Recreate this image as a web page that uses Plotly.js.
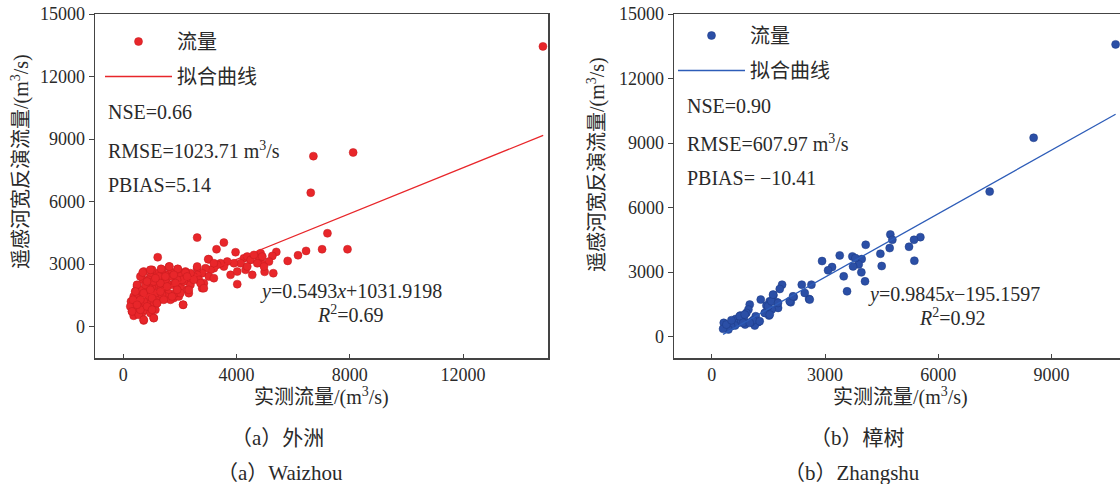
<!DOCTYPE html>
<html><head><meta charset="utf-8">
<script src="https://cdn.plot.ly/plotly-3.0.1.min.js"></script>
<style>html,body{margin:0;padding:0;overflow:hidden;background:#fff}#c{width:1140px;height:484px}</style>
</head><body><div id="c"></div>
<script>
// ---- Waizhou (外洲) ----
const wzObs = [14821,6714,8118,6620,7210,7021,7918,6455,6171,5806,5404,5298,4991,5263,5145,4850,4885,4555,2608,3552,3292,3965,4024,1215,2112,720,1074,307,366,271,3021,4260,4378,4496,4791,4142,3906,3670,3552,3434,3316,3198,3080,2903,2785,2608,2608,2490,2372,2313,2254,2313,2195,2018,1923,1782,1664,1617,1487,1369,1310,1192,1015,956,720,696,602,484,425,366,543,779,956,1192,1428,1605,1782,1959,1487,1251,1074,897,661,1133,838,602,1015,1723,2018,2136,2844,2785,2667,3021,3198,3788,4024,4319,4378,4732,4968,4909,4614,2077,2372,1900,1546,1310,897,661,484,248,602,897,1133,1369,1664,1841,1251,1487,1723,1900,897,779,1074,484,720,1015,1192,779,425,543,956,
  684,956,1334,1628,1923,2195,2609,2998,3198,484,425,343,308,719,1074,602,838,1015,1192,1428,1722,2018,2112,2313,2726,2844,2489,1310,719,956,602,484,1310,1546,1841,1900,838,1133,1487,1782,2254];
const wzSim = [13446,8182,8358,6428,4482,3716,3716,3637,3429,3158,3589,2568,2632,3397,3126,3525,3046,2488,4275,4035,3716,3573,2042,3334,1053,303,415,734,526,1212,3238,3286,3366,3206,3286,3046,3046,3126,2887,3046,2967,2807,2727,2807,2568,2807,2488,2408,2568,2169,1770,1611,2648,2568,2759,2408,2648,2887,2488,2727,2249,2568,2727,2408,2648,2249,2408,1930,1691,1451,1292,1611,1770,2010,1850,1611,1372,1451,1451,1292,1053,893,654,813,1212,1611,1850,2010,1930,2169,2089,1850,2249,2408,2329,2488,2648,2727,2887,3046,2887,3366,3445,2249,2010,1770,2089,1770,1930,1770,1372,973,973,1451,1611,1531,1292,1611,2408,2249,2408,2249,2249,2010,2169,1212,1212,1372,1133,813,734,574,654,
  2598,2727,2775,2886,2775,2598,2886,3239,3048,2010,1689,1292,733,335,416,813,972,813,1133,1292,1451,1612,1053,1770,2090,1850,2249,2090,1612,1770,1292,1053,1689,1929,2090,1770,2168,2328,2408,2488,2408];
const wzFitX = [250, 14830];
const wzSlope = 0.5493, wzIntercept = 1031.9198;

// ---- Zhangshu (樟树) ----
const zsObs = [10698,8527,7362,5526,5358,4731,4784,4713,5226,5367,4502,4467,4078,3972,3893,3725,3805,3743,3963,4060,3496,3584,3390,3187,3081,2922,2640,2578,2463,2384,2172,2092,1863,1801,1633,1730,1536,1757,1589,1448,1421,1518,1298,1006,971,1165,1227,1139,1033,883,847,759,636,706,618,512,441,318,300,388,521,786,918,1094,1271,
  741,874,830,1006,1403,1536,1492,1580,1624,1756,2065,2153,2595];
const zsSim = [13587,9243,6739,4622,4498,4745,4498,4112,4173,3524,3277,3849,4266,3601,3354,3725,3648,3261,2983,2566,2798,2102,3771,3230,3076,3509,2411,1747,2025,2411,1839,1592,2411,2210,1917,1592,1638,1329,1252,1438,1097,974,1716,1484,1252,943,665,510,665,556,866,974,819,634,510,479,325,634,356,556,757,711,1097,757,711,
  943,1020,634,634,1097,1020,1406,1638,1948,1561,1638,1870,1716];
const zsFitX = [300, 10698];
const zsSlope = 0.9845, zsIntercept = -195.1597;

const yTicks = [0,3000,6000,9000,12000,15000];
const yTickText = ['0','3000','6000','9000','12000','15000'];
const wzXTicks = [0,4000,8000,12000];
const wzXTickText = ['0','4000','8000','12000'];
const zsXTicks = [0,3000,6000,9000];
const zsXTickText = ['0','3000','6000','9000'];

const legName = ['流量','拟合曲线'];
const xTitle = '实测流量/(m<sup>3</sup>/s)';
const yTitle = '遥感河宽反演流量/(m<sup>3</sup>/s)';

const W = 1140, H = 484;
const xp = p => p / W, yp = p => 1 - p / H;
const FONT = 'Liberation Serif, "Noto Sans CJK SC", serif';
const TXT = '#2a2a2a';
const RED = '#e8262a', BLUE = '#2b4fa6', BLUEL = '#2d5cb8';

const fit = (xs, a, b) => xs.map(x => a * x + b);

const traces = [
  {x: wzObs, y: wzSim, type: 'scatter', mode: 'markers', name: legName[0], legend: 'legend', legendgroup: 'a1',
   marker: {color: RED, size: 8, line: {color: '#c41a1e', width: 0.5}}, xaxis: 'x', yaxis: 'y'},
  {x: wzFitX, y: fit(wzFitX, wzSlope, wzIntercept), type: 'scatter', mode: 'lines', name: legName[1], legend: 'legend', legendgroup: 'a2',
   line: {color: RED, width: 1.3}, xaxis: 'x', yaxis: 'y'},
  {x: zsObs, y: zsSim, type: 'scatter', mode: 'markers', name: legName[0], legend: 'legend2', legendgroup: 'b1',
   marker: {color: BLUE, size: 8, line: {color: '#1d3b85', width: 0.5}}, xaxis: 'x2', yaxis: 'y2'},
  {x: zsFitX, y: fit(zsFitX, zsSlope, zsIntercept), type: 'scatter', mode: 'lines', name: legName[1], legend: 'legend2', legendgroup: 'b2',
   line: {color: BLUEL, width: 1.3}, xaxis: 'x2', yaxis: 'y2'}
];

const axBase = {showline: true, linecolor: '#444', linewidth: 1.5, mirror: true, showgrid: false, zeroline: false,
  tickfont: {family: FONT, size: 18, color: TXT}, tickcolor: '#444', tickmode: 'array'};
const xax = Object.assign({}, axBase, {ticks: 'inside', ticklen: 4});
const yax = Object.assign({}, axBase, {ticks: 'outside', ticklen: 5});

function ann(text, x, y, opts) {
  return Object.assign({text: text, x: xp(x), y: yp(y), xref: 'paper', yref: 'paper', showarrow: false,
    font: {family: FONT, size: 20, color: TXT}, xanchor: 'left', yanchor: 'middle'}, opts || {});
}
const capFont = {family: FONT, size: 21, color: TXT};

const annotations = [
  ann('NSE=0.66', 106, 112), ann('RMSE=1023.71 m<sup>3</sup>/s', 106, 150), ann('PBIAS=5.14', 106, 185),
  ann('<i>y</i>=0.5493<i>x</i>+1031.9198', 258, 291), ann('<i>R</i><sup>2</sup>=0.69', 350, 314, {xanchor: 'center'}),
  ann('NSE=0.90', 685, 106), ann('RMSE=607.97 m<sup>3</sup>/s', 685, 143), ann('PBIAS= −10.41', 685, 178),
  ann('<i>y</i>=0.9845<i>x</i>−195.1597', 866, 294), ann('<i>R</i><sup>2</sup>=0.92', 952, 317, {xanchor: 'center'}),
  ann(xTitle, 321, 396, {xanchor: 'center'}), ann(xTitle, 900, 396, {xanchor: 'center'}),
  ann(yTitle, 20, 162, {xanchor: 'center', textangle: -90}), ann(yTitle, 597, 165, {xanchor: 'center', textangle: -90}),
  ann('（a）外洲', 277, 438, {xanchor: 'center', font: capFont}), ann('（a）Waizhou', 280, 473, {xanchor: 'center', font: capFont}),
  ann('（b）樟树', 857, 438, {xanchor: 'center', font: capFont}), ann('（b）Zhangshu', 852, 473, {xanchor: 'center', font: capFont})
];

const legBase = {font: {family: FONT, size: 20, color: TXT}, bgcolor: 'rgba(0,0,0,0)', borderwidth: 0,
  xanchor: 'left', yanchor: 'top', xref: 'paper', yref: 'paper', itemwidth: 67, tracegroupgap: 6, traceorder: 'grouped'};

const layout = {
  width: W, height: H, margin: {l: 0, r: 0, t: 0, b: 0}, paper_bgcolor: '#fff', plot_bgcolor: '#fff',
  showlegend: true,
  xaxis: Object.assign({}, xax, {domain: [xp(95), xp(548)], range: [-1000, 15000], tickvals: wzXTicks, ticktext: wzXTickText, anchor: 'y'}),
  yaxis: Object.assign({}, yax, {domain: [yp(358), yp(14)], range: [-1500, 15000], tickvals: yTicks, ticktext: yTickText, anchor: 'x'}),
  xaxis2: Object.assign({}, xax, {domain: [xp(674), xp(1127)], range: [-1000, 11000], tickvals: zsXTicks, ticktext: zsXTickText, anchor: 'y2'}),
  yaxis2: Object.assign({}, yax, {domain: [yp(358), yp(14)], range: [-1000, 15000], tickvals: yTicks, ticktext: yTickText, anchor: 'x2'}),
  legend: Object.assign({}, legBase, {x: xp(100), y: yp(22)}),
  legend2: Object.assign({}, legBase, {x: xp(673), y: yp(16)}),
  annotations: annotations
};

Plotly.newPlot('c', traces, layout, {displayModeBar: false, staticPlot: true});
</script></body></html>
